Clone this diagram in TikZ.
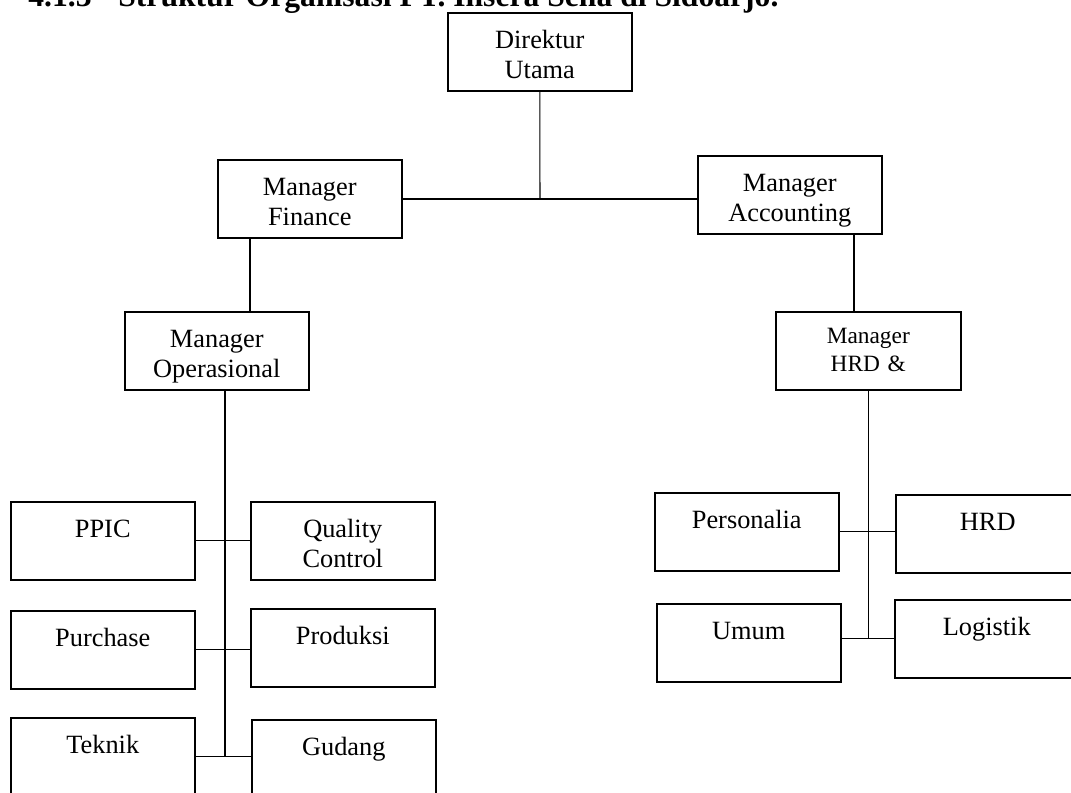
\documentclass[tikz,border=0pt]{standalone}
\usepackage{fontspec}
\setmainfont{Liberation Serif}

\tikzset{
    unit/.style={draw, line width=0.9pt, anchor=north west, inner sep=0pt,
        minimum width=3.68cm, text width=3.6cm, align=center,
        font=\fontsize{15}{17}\selectfont, text height=0.72cm, text depth=0.84cm},
    smallunit/.style={unit, minimum width=3.7cm,
        font=\fontsize{13.3}{15.9}\selectfont, text height=0.64cm, text depth=0.92cm},
    conn/.style={line width=0.6pt},
    heading/.style={anchor=base west, inner sep=0pt, font=\fontsize{18}{21}\selectfont\bfseries}
}

\begin{document}
\begin{tikzpicture}[x=0.02cm, y=-0.02cm]
    \useasboundingbox (0,0) rectangle (1071,792);
    \clip (0,0) rectangle (1071,792);
    % judul
    \node [heading] (nomor) at (28,6) {4.1.3};
    \node [heading] (judul) at (118,6) {Struktur Organisasi PT. Insera Sena di Sidoarjo.};
    % pimpinan
    \node [unit] (dirut) at (447,12) {Direktur\\Utama};
    \node [unit] (mfin) at (217,159) {Manager\\Finance};
    \node [unit] (macc) at (697,155) {Manager\\Accounting};
    \node [unit] (mops) at (124,311) {Manager\\Operasional};
    \node [smallunit] (mhrd) at (775,311) {Manager\\HRD \&};
    % bagian operasional
    \node [unit] (ppic) at (10,501) {PPIC};
    \node [unit] (qc) at (250,501) {Quality\\Control};
    \node [unit] (purch) at (10,610) {Purchase};
    \node [unit] (prod) at (250,608) {Produksi};
    \node [unit] (teknik) at (10,717) {Teknik};
    \node [unit] (gudang) at (251,719) {Gudang};
    % bagian HRD
    \node [unit] (person) at (654,492) {Personalia};
    \node [unit] (hrd) at (895,494) {HRD};
    \node [unit] (umum) at (656,603) {Umum};
    \node [unit] (logis) at (894,599) {Logistik};
    % garis
    \coordinate (cabang) at (540,199);
    \coordinate (opsx) at (250,0);
    \coordinate (accx) at (854,0);
    \coordinate (trunk) at (225,0);
    \draw [conn] (dirut.south) -- (cabang);
    \draw [conn] (mfin.east |- cabang) -- (macc.west |- cabang);
    \draw [conn] (mfin.south -| opsx) -- (mops.north -| opsx);
    \draw [conn] (macc.south -| accx) -- (mhrd.north -| accx);
    \draw [conn] (mops.south -| trunk) -- (teknik.east -| trunk);
    \draw [conn] (ppic.east) -- (qc.west |- ppic.east);
    \draw [conn] (purch.east) -- (prod.west |- purch.east);
    \draw [conn] (teknik.east) -- (gudang.west |- teknik.east);
    \draw [conn] (mhrd.south) -- (mhrd.south |- logis.west);
    \draw [conn] (person.east) -- (hrd.west |- person.east);
    \draw [conn] (umum.east |- logis.west) -- (logis.west);
\end{tikzpicture}
\end{document}
